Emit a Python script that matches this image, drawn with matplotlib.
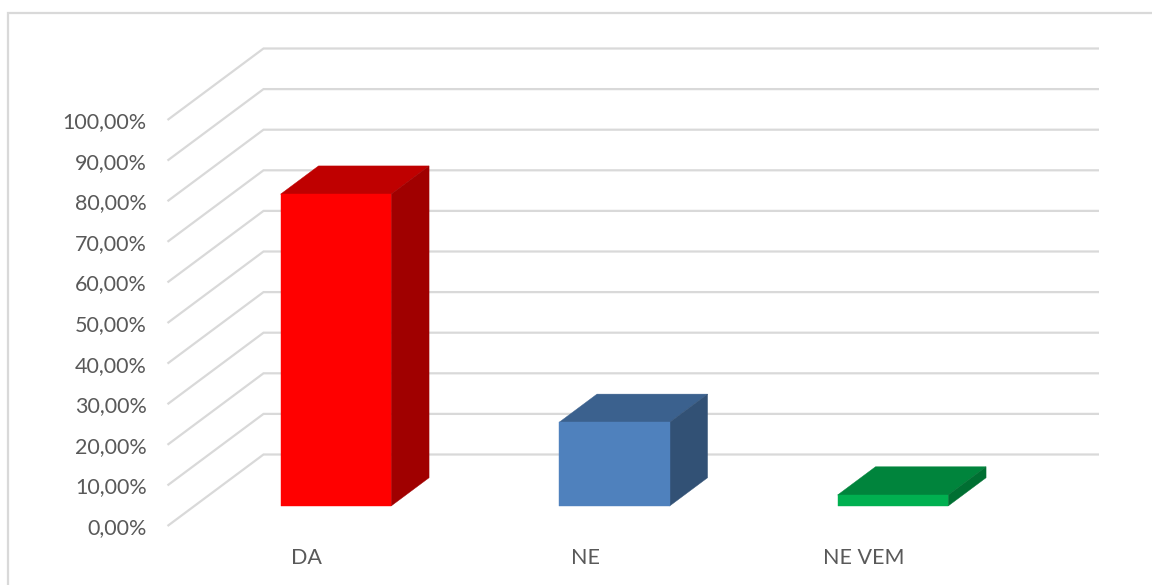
import matplotlib
matplotlib.use("Agg")
import matplotlib.pyplot as plt
from matplotlib.lines import Line2D
from matplotlib.patches import Polygon

# --- data ---
categories = ["DA", "NE", "NE VEM"]
values = [76.8, 20.6, 2.7]
tick_values = [0, 10, 20, 30, 40, 50, 60, 70, 80, 90, 100]
tick_labels = ["0,00%", "10,00%", "20,00%", "30,00%", "40,00%", "50,00%",
               "60,00%", "70,00%", "80,00%", "90,00%", "100,00%"]
front_colors = ["#FF0000", "#4F81BD", "#00B050"]
top_colors = ["#BF0000", "#3B618E", "#00843C"]
side_colors = ["#A00000", "#325175", "#006F32"]

# --- style ---
W, H = 1152, 585
GRID = "#D9D9D9"
TEXT = "#595959"
FONT = "Lato"
BAR_W = 0.397
BAR_SHIFT = 0.008
DEPTH_X = 96 / 278.5    # category units per full floor depth
DEPTH_Y = 71.5 / 4.06   # value units per full floor depth
BAR_NEAR, BAR_FAR = 0.28, 0.675

fig = plt.figure(figsize=(W / 100, H / 100), dpi=100, facecolor="white")
ax = fig.add_axes([167.5 / W, 1 - 526 / H, 835.5 / W, 406 / H])
ax.set_xlim(0, 3)
ax.set_ylim(0, 100)
ax.patch.set_visible(False)
for s in ax.spines.values():
    s.set_visible(False)


def proj(x, y, d):
    return (x + d * DEPTH_X, y + d * DEPTH_Y)


# walls / gridlines
for v in tick_values:
    xs, ys = zip(proj(0, v, 0), proj(0, v, 1), proj(3, v, 1))
    ax.plot(xs, ys, color=GRID, lw=1.6, clip_on=False, zorder=1,
            solid_joinstyle="miter", solid_capstyle="butt")

# bars
for i, (val, fc, tc, sc) in enumerate(zip(values, front_colors, top_colors, side_colors)):
    cx = i + 0.5 + BAR_SHIFT
    x0, x1 = cx - BAR_W / 2, cx + BAR_W / 2
    front = [proj(x0, 0, BAR_NEAR), proj(x1, 0, BAR_NEAR),
             proj(x1, val, BAR_NEAR), proj(x0, val, BAR_NEAR)]
    side = [proj(x1, 0, BAR_NEAR), proj(x1, 0, BAR_FAR),
            proj(x1, val, BAR_FAR), proj(x1, val, BAR_NEAR)]
    top = [proj(x0, val, BAR_NEAR), proj(x1, val, BAR_NEAR),
           proj(x1, val, BAR_FAR), proj(x0, val, BAR_FAR)]
    for pts, c in ((top, tc), (side, sc), (front, fc)):
        ax.add_patch(Polygon(pts, closed=True, facecolor=c, edgecolor=c, lw=0.3,
                             clip_on=False, zorder=3))

ax.set_yticks(tick_values)
ax.set_yticklabels(tick_labels, fontsize=15.5, color=TEXT, family=FONT)
ax.set_xticks([i + 0.5 for i in range(len(categories))])
ax.set_xticklabels(categories, fontsize=15.5, color=TEXT, family=FONT)
ax.tick_params(axis="y", length=0, pad=15)
ax.tick_params(axis="x", length=0, pad=16)

# chart frame
fig.add_artist(Line2D([7.5 / W, 7.5 / W, 1], [0, 1 - 13 / H, 1 - 13 / H],
                      color=GRID, lw=1.6, solid_joinstyle="miter"))

fig.savefig("out.png", dpi=100, facecolor="white")
